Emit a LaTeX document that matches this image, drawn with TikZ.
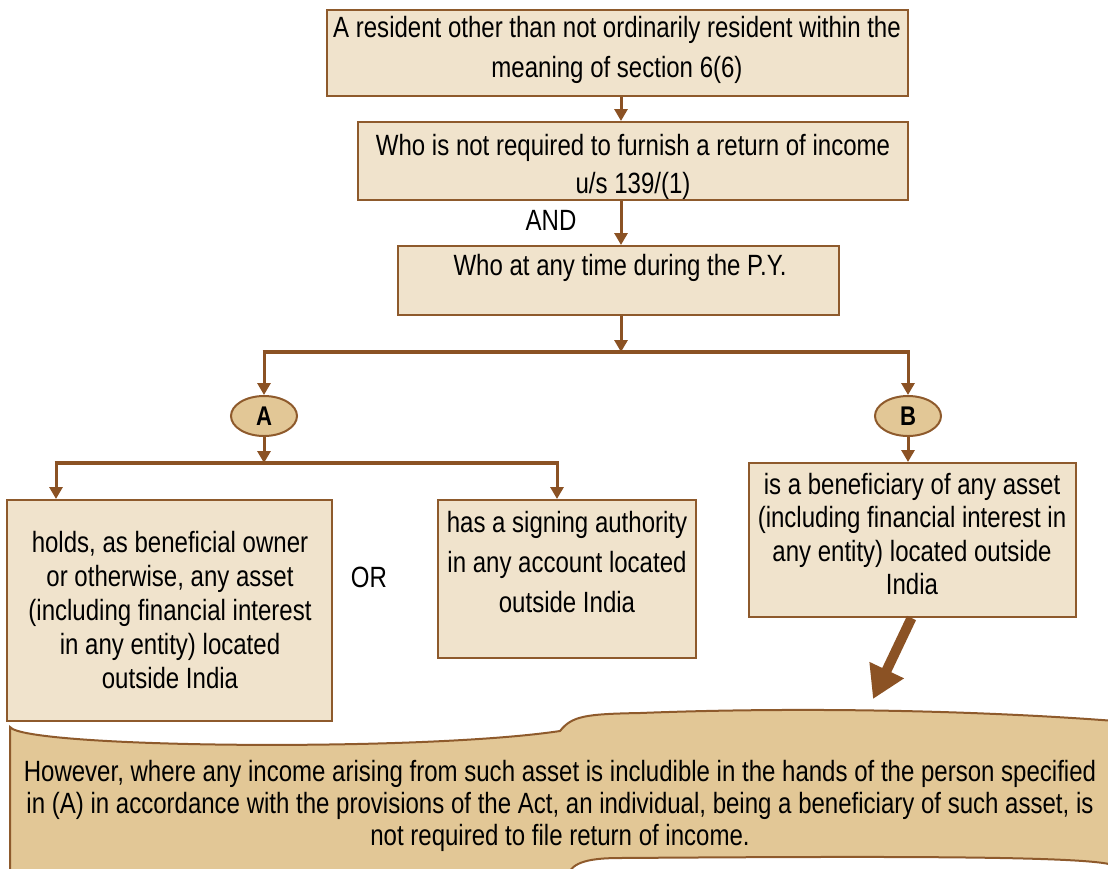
\documentclass[tikz,border=0pt]{standalone}
\usepackage{fontspec}
\setmainfont{Liberation Sans}[FakeStretch=0.82]
\usetikzlibrary{arrows.meta,shapes.geometric,calc}
\definecolor{boxfill}{HTML}{F0E3CC}
\definecolor{darkfill}{HTML}{E2C796}
\definecolor{brd}{HTML}{8E5A2C}
\definecolor{arr}{HTML}{8B5224}
\tikzset{
  box/.style={draw=brd, fill=boxfill, line width=2pt, rectangle, inner sep=0pt},
  oval/.style={draw=brd, fill=darkfill, line width=2pt, ellipse, inner sep=0pt, minimum width=66pt, minimum height=40pt, font=\fontsize{27}{29}\selectfont\bfseries},
  conn/.style={draw=arr, line width=3pt, -{Triangle[width=13pt,length=12pt]}},
  bar/.style={draw=arr, line width=4pt},
  txt/.style={align=center, inner sep=0pt, font=\fontsize{29.3}{#1}\selectfont},
  txt/.default=38,
}
\begin{document}
\begin{tikzpicture}[x=1pt,y=-1pt]
\useasboundingbox (0,0) rectangle (1108,868);
\begin{scope}
\clip (0,0) rectangle (1108,868);
% banner
\path[draw=brd, fill=darkfill, line width=2pt]
  (10,727) .. controls (25,748) and (420,752) .. (560,731)
  .. controls (572,716) and (585,714) .. (640,713)
  .. controls (820,706) and (1000,712) .. (1115,721)
  -- (1115,866) .. controls (1100,856) and (900,856) .. (620,858)
  .. controls (590,858) and (572,862) .. (568,875)
  -- (10,875) -- cycle;
\end{scope}
\node[txt=32] (bantext) at (560,806) {However, where any income arising from such asset is includible in the hands of the person specified\\ in (A) in accordance with the provisions of the Act, an individual, being a beneficiary of such asset, is\\ not required to file return of income.};

\coordinate (spine) at (621,0);
\node[box, minimum width=581pt, minimum height=86pt] (b1) at (617.5,53) {};
\node[txt=40] (t1) at (617,50) {A resident other than not ordinarily resident within the\\ meaning of section 6(6)};
\node[box, minimum width=550pt, minimum height=78pt] (b2) at (633,161) {};
\node[txt=38] (t2) at (633,167) {Who is not required to furnish a return of income\\ u/s 139/(1)};
\node[txt] (and) at (551,220) {AND};
\node[box, minimum width=441pt, minimum height=69pt] (b3) at (618.5,280.5) {};
\node[txt] (t3) at (620,268) {Who at any time during the P.Y.};

\draw[conn] (b1.south -| spine) -- (b2.north -| spine);
\draw[conn] (b2.south -| spine) -- (b3.north -| spine);

\coordinate (j1) at (621,352);
\coordinate (jA) at (264,352);
\coordinate (jB) at (908,352);
\draw[bar] ([xshift=-1.5pt]jA) -- ([xshift=1.5pt]jB);
\draw[conn] (b3.south -| spine) -- (j1);

\node[oval] (A) at (264,416) {A};
\node[oval] (B) at (908,416) {B};
\draw[conn] (jA) -- (A.north);
\draw[conn] (jB) -- (B.north);

\coordinate (j2) at (264,463);
\coordinate (j2L) at (56,463);
\coordinate (j2R) at (557,463);
\draw[conn] (A.south) -- (j2);
\draw[bar] ([xshift=-1.5pt]j2L) -- ([xshift=1.5pt]j2R);

\node[box, minimum width=325pt, minimum height=221pt] (bL) at (169.5,610.5) {};
\node[txt=34] (tL) at (170,610) {holds, as beneficial owner\\ or otherwise, any asset\\ (including financial interest\\ in any entity) located\\ outside India};
\node[txt] (or) at (369,577) {OR};
\node[box, minimum width=258pt, minimum height=158pt] (bM) at (567,579) {};
\node[txt=40] (tM) at (567,562) {has a signing authority\\ in any account located\\ outside India};
\node[box, minimum width=327pt, minimum height=154pt] (bR) at (912.5,540) {};
\node[txt=33.5] (tR) at (912,534) {is a beneficiary of any asset\\ (including financial interest in\\ any entity) located outside\\ India};

\draw[conn] (j2L) -- (bL.north -| j2L);
\draw[conn] (j2R) -- (bM.north -| j2R);
\draw[conn] (B.south) -- (bR.north -| B);

\coordinate (tip) at (873,699);
\draw[draw=arr, line width=10pt, -{Triangle[width=36pt,length=32pt]}] ([xshift=-1pt]bR.south) -- (tip);
\end{tikzpicture}
\end{document}
